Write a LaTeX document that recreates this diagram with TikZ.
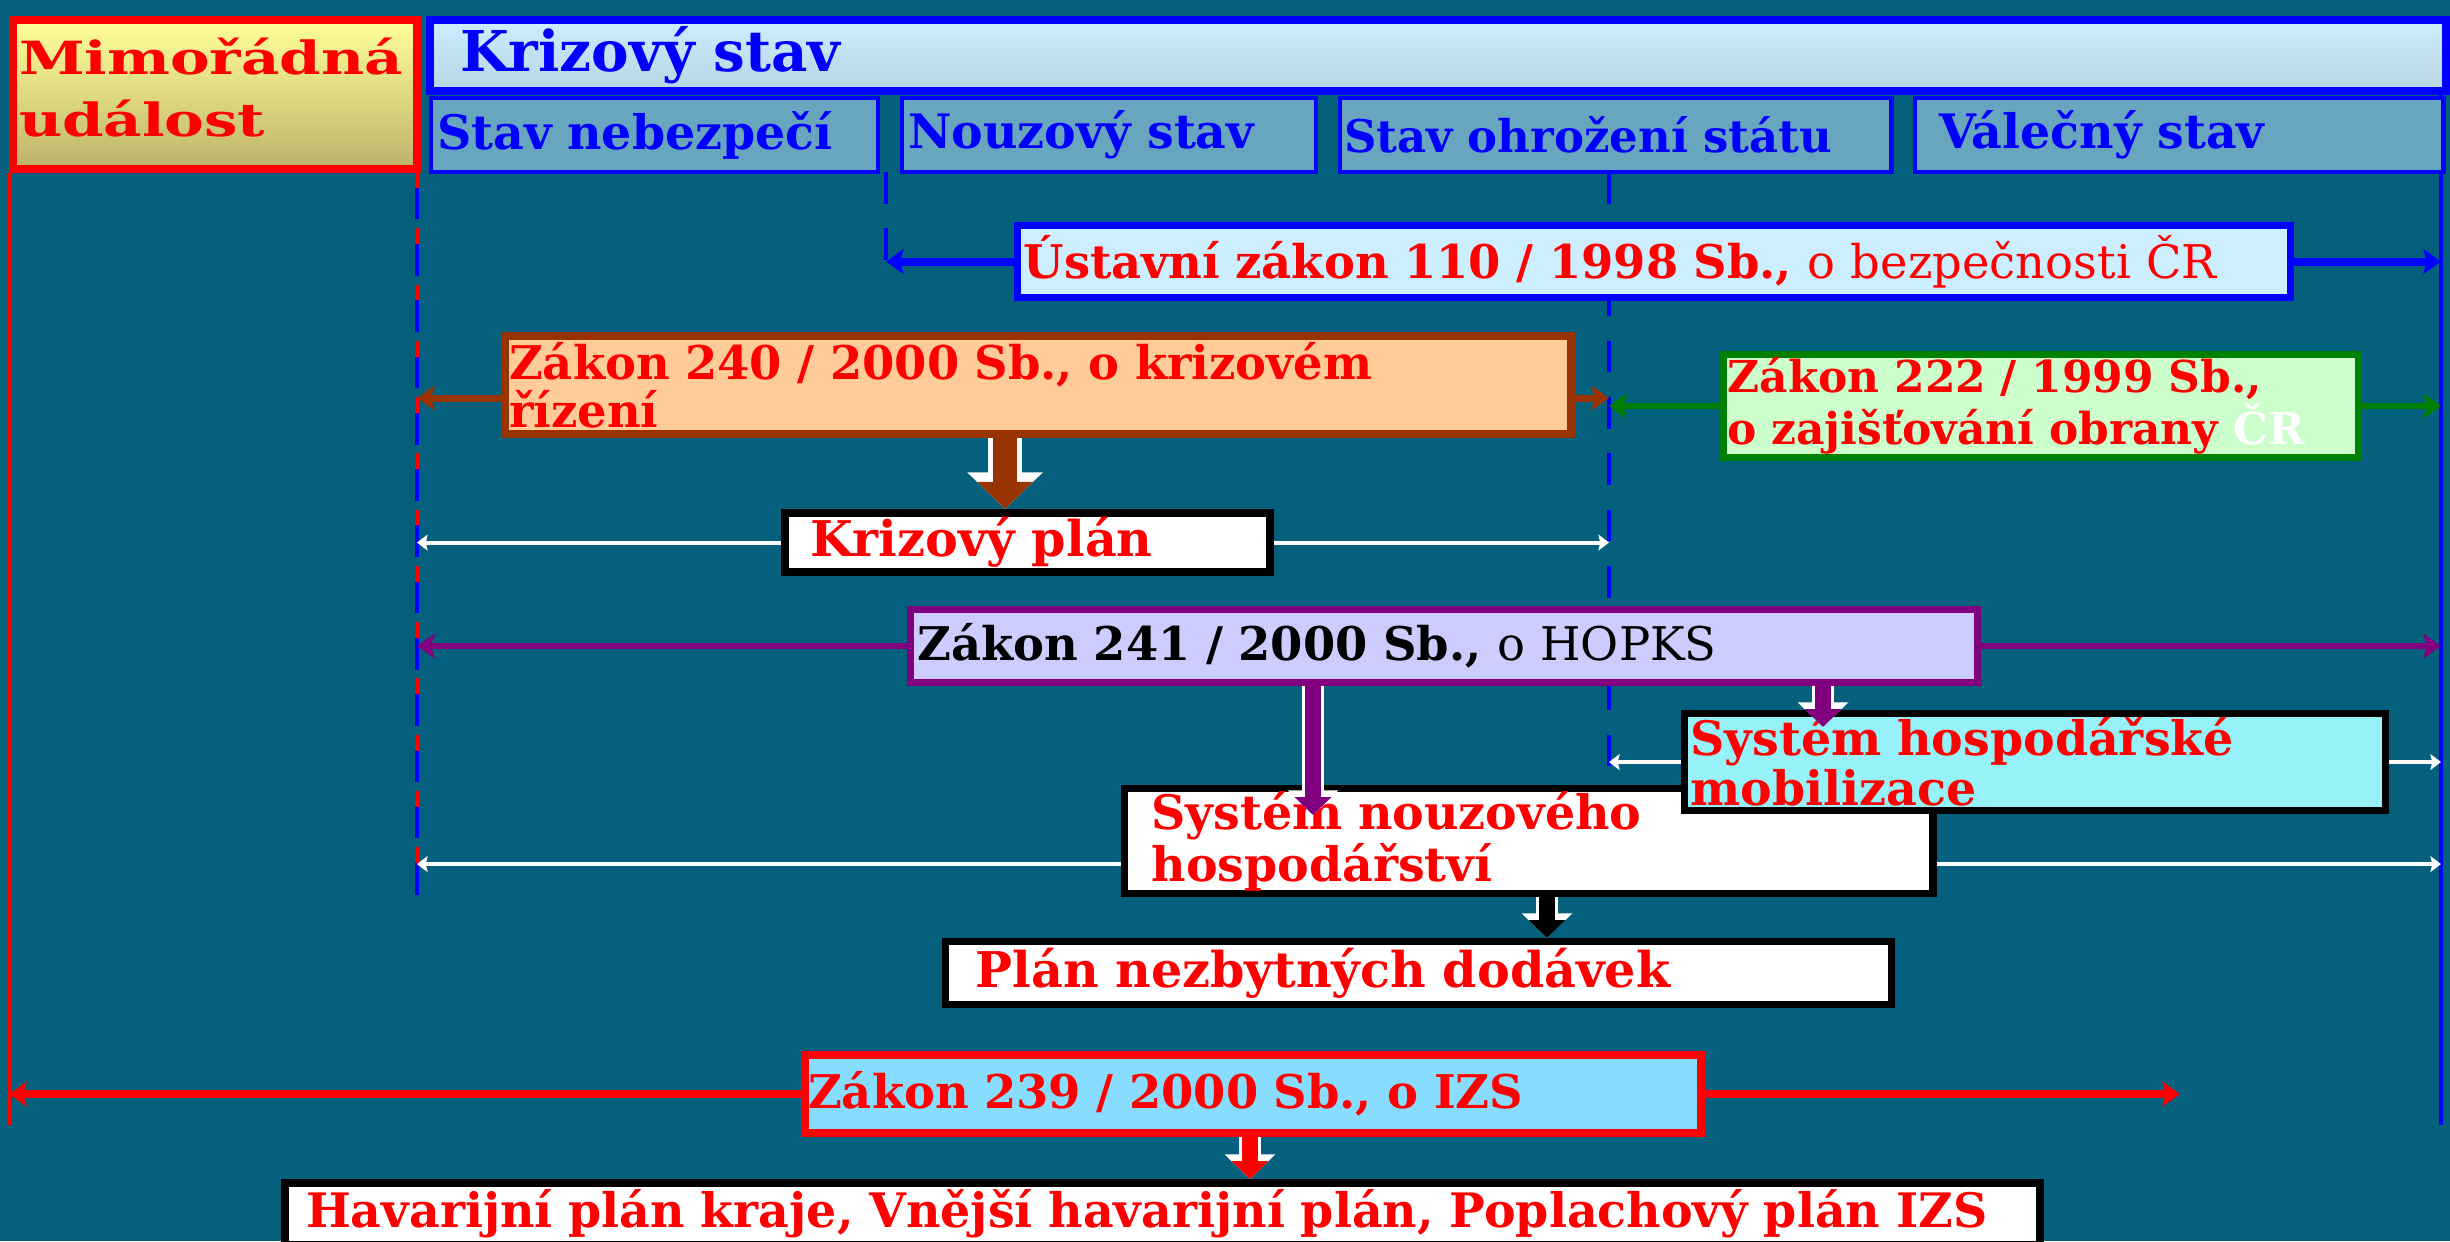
\documentclass[tikz,border=0pt]{standalone}
\usepackage{fontspec}
\setmainfont{DejaVu Serif}
\newfontfamily\siroke{DejaVu Serif}[FakeStretch=1.3]
\usetikzlibrary{arrows.meta}

\definecolor{pozadi}{HTML}{04607C}
\definecolor{zlutaH}{HTML}{FFFF99}
\definecolor{zlutaD}{HTML}{BDB269}
\definecolor{nebeH}{HTML}{CCEEFF}
\definecolor{nebeD}{HTML}{B6D4E4}
\definecolor{fazemodra}{HTML}{68A6BF}
\definecolor{hneda}{HTML}{993300}
\definecolor{broskev}{HTML}{FFCC99}
\definecolor{zelena}{HTML}{008000}
\definecolor{mata}{HTML}{CCFFCC}
\definecolor{fialova}{HTML}{800080}
\definecolor{levandule}{HTML}{CCCCFF}
\definecolor{tyrkys}{HTML}{96F2F8}
\definecolor{azur}{HTML}{88DDFF}

\tikzset{
  box/.style={draw, anchor=north west, align=left, inner ysep=0pt},
  faze/.style={box, draw=blue, fill=fazemodra, line width=1.2pt, minimum height=0.74cm,
    text=blue, font=\bfseries\fontsize{13.5}{15}\selectfont},
  zakon/.style={box, text=red, font=\bfseries\fontsize{13.2}{11}\selectfont},
  hrot/.style={-{Stealth[length=5pt,width=7pt,inset=1pt]}},
  tenka/.style={white, line width=1.1pt, -{Stealth[length=3pt,width=4.5pt,inset=0.5pt]}},
  dolu/.style n args={3}{draw=#1, line width=#2, -{Triangle[width=0pt 2.2, length=0pt 1.1]},
    preaction={draw=white, line width=#3, -{Triangle[width=0pt 2.2, length=0pt 1.1]}}},
}

\begin{document}
\begin{tikzpicture}[x=0.01cm, y=-0.01cm]
\path[use as bounding box, clip] (0,0) rectangle (2450,1241);
\fill[pozadi] (0,0) rectangle (2450,1241);

% hranice stavu
\coordinate (h1) at (417,172);
\coordinate (h1e) at (417,903);
\coordinate (h2) at (886,172);
\coordinate (h2e) at (886,281);
\coordinate (h3) at (1609,172);
\coordinate (h3e) at (1609,766);
\coordinate (kraj) at (2441,91);
\coordinate (kraje) at (2441,1125);
\coordinate (izsk) at (2180,1100);

\draw[red, line width=1.4pt, dash pattern=on 4.5pt off 11.5pt] (h1) -- (h1e);
\draw[blue, line width=1.4pt, dash pattern=on 9pt off 7pt, dash phase=11.5pt] (h1) -- (h1e);
\draw[blue, line width=1.4pt, dash pattern=on 9pt off 7pt] (h2) -- (h2e);
\draw[blue, line width=1.4pt, dash pattern=on 9pt off 7pt] (h3) -- (h3e);
\draw[blue, line width=1.4pt] (kraj) -- (kraje);

% hlavicka
\node[box, draw=red, line width=2.3pt, top color=zlutaH, bottom color=zlutaD,
  minimum height=1.49cm, text width=3.92cm, inner xsep=0.06cm, text=red,
  font=\siroke\bfseries\fontsize{13}{17.8}\selectfont] (mimo) at (9,16) {Mimořádná\\událost\vspace{4pt}};
\draw[red, line width=1.4pt] (mimo.south west) -- (mimo.south west |- kraje);
\node[box, draw=blue, line width=2.3pt, top color=nebeH, bottom color=nebeD,
  minimum height=0.71cm, text width=19.55cm, inner xsep=0.3cm, text=blue,
  font=\bfseries\fontsize{16}{18}\selectfont] (krize) at (426,16) {Krizový stav};
\node[faze, text width=4.35cm, inner xsep=0.06cm] (faze1) at (429,96) {Stav nebezpečí};
\node[faze, text width=4.02cm, inner xsep=0.06cm] (faze2) at (900,96) {Nouzový stav};
\node[faze, text width=5.43cm, inner xsep=0.04cm, font=\bfseries\fontsize{12.8}{15}\selectfont] (faze3) at (1338,96) {Stav ohrožení státu};
\node[faze, text width=4.80cm, inner xsep=0.24cm] (faze4) at (1913,96) {Válečný stav};

% zakony a plany
\node[zakon, draw=blue, line width=2pt, fill=nebeH, minimum height=0.72cm,
  text width=12.60cm, inner xsep=0.06cm] (ustava) at (1014,222)
  {Ústavní zákon 110 / 1998 Sb., {\mdseries o bezpečnosti ČR}};
\node[zakon, draw=hneda, line width=2.3pt, fill=broskev, minimum height=0.98cm,
  text width=10.57cm, inner xsep=0.04cm] (z240) at (501,332)
  {Zákon 240 / 2000 Sb., o krizovém\\řízení};
\node[zakon, draw=zelena, line width=2pt, fill=mata, minimum height=1.03cm,
  text width=6.27cm, inner xsep=0.04cm, font=\bfseries\fontsize{12.5}{11}\selectfont] (z222) at (1720,351)
  {Zákon 222 / 1999 Sb.,\\o zajišťování obrany \textcolor{white}{ČR}};
\node[zakon, draw=black, line width=2.3pt, fill=white, minimum height=0.59cm,
  text width=4.35cm, inner xsep=0.25cm, font=\bfseries\fontsize{14}{16}\selectfont] (kplan) at (781,509) {Krizový plán};
\node[zakon, draw=fialova, line width=2pt, fill=levandule, minimum height=0.73cm,
  text width=10.52cm, inner xsep=0.07cm, text=black] (z241) at (907,606)
  {Zákon 241 / 2000 Sb., {\mdseries o HOPKS}};
\node[zakon, draw=black, line width=2pt, fill=white, minimum height=1.05cm,
  text width=7.54cm, inner xsep=0.27cm, font=\bfseries\fontsize{13.5}{12.5}\selectfont] (snh) at (1121,785)
  {Systém nouzového\\hospodářství};
\node[zakon, draw=black, line width=2pt, fill=tyrkys, minimum height=0.97cm,
  text width=6.89cm, inner xsep=0.06cm, font=\bfseries\fontsize{13.5}{12}\selectfont] (shm) at (1681,710)
  {Systém hospodářské\\mobilizace};
\node[zakon, draw=black, line width=2pt, fill=white, minimum height=0.63cm,
  text width=8.85cm, inner xsep=0.3cm, font=\bfseries\fontsize{14}{16}\selectfont] (pnd) at (942,938)
  {Plán nezbytných dodávek};
\node[zakon, draw=red, line width=2.3pt, fill=azur, minimum height=0.78cm,
  text width=8.89cm, inner xsep=0.03cm] (z239) at (801,1051) {Zákon 239 / 2000 Sb., o IZS};
\node[zakon, draw=black, line width=2.3pt, fill=white, minimum height=0.62cm,
  text width=17.24cm, inner xsep=0.15cm, font=\bfseries\fontsize{13.5}{15}\selectfont] (hav) at (281,1179)
  {\hspace{0.06cm}Havarijní plán kraje, Vnější havarijní plán, Poplachový plán IZS};

% sipky do stran
\coordinate (z240l) at ([yshift=-0.13cm]z240.west);
\coordinate (z240p) at ([yshift=-0.13cm]z240.east);
\coordinate (snhl) at ([yshift=-0.23cm]snh.west);
\coordinate (snhp) at ([yshift=-0.23cm]snh.east);
\draw[hrot, blue, line width=2.3pt] (ustava.west) -- (ustava.west -| h2);
\draw[hrot, blue, line width=2.3pt] (ustava.east) -- (ustava.east -| kraj);
\draw[hrot, hneda, line width=2pt] (z240l) -- (z240l -| h1);
\draw[hrot, hneda, line width=2pt] (z240p) -- (z240p -| h3);
\draw[hrot, zelena, line width=1.7pt] (z222.west) -- (z222.west -| h3);
\draw[hrot, zelena, line width=1.7pt] (z222.east) -- (z222.east -| kraj);
\draw[tenka] (kplan.west) -- (kplan.west -| h1);
\draw[tenka] (kplan.east) -- (kplan.east -| h3);
\draw[hrot, fialova, line width=1.7pt] (z241.west) -- (z241.west -| h1);
\draw[hrot, fialova, line width=1.7pt] (z241.east) -- (z241.east -| kraj);
\draw[tenka] (shm.west) -- (shm.west -| h3);
\draw[tenka] (shm.east) -- (shm.east -| kraj);
\draw[tenka] (snhl) -- (snhl -| h1);
\draw[tenka] (snhp) -- (snhp -| kraj);
\draw[hrot, red, line width=2.3pt] (z239.west) -- (z239.west -| mimo.south west);
\draw[hrot, red, line width=2.3pt] (z239.east) -- (z239.east -| izsk);

% sipky dolu
\coordinate (s1) at (1005,0);
\coordinate (p1) at (1313,815);
\coordinate (p2) at (1823,727);
\coordinate (c1) at (1547,0);
\coordinate (r1) at (1250,0);
\draw[dolu={hneda}{7pt}{9.5pt}] (z240.south -| s1) -- (kplan.north -| s1);
\draw[dolu={fialova}{4.6pt}{6.4pt}] (z241.south -| p1) -- (p1);
\draw[dolu={fialova}{4.6pt}{6.4pt}] (z241.south -| p2) -- (p2);
\draw[dolu={black}{4.6pt}{6.4pt}] (snh.south -| c1) -- (pnd.north -| c1);
\draw[dolu={red}{4.6pt}{6.4pt}] (z239.south -| r1) -- (hav.north -| r1);
\end{tikzpicture}
\end{document}
